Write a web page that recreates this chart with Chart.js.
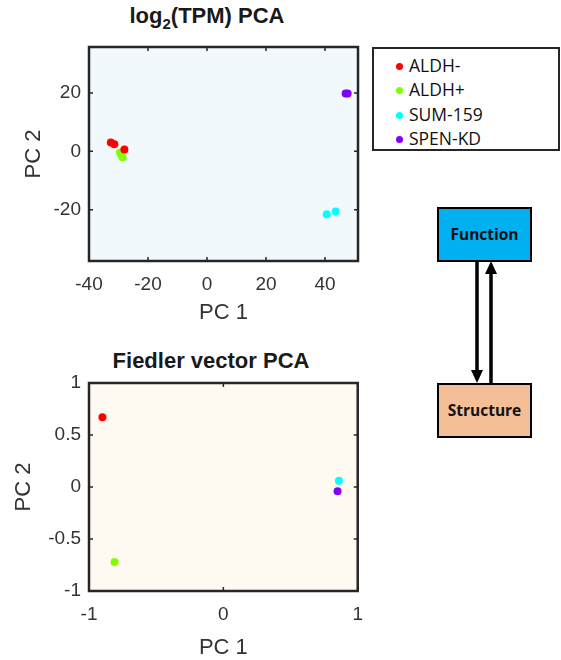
<!DOCTYPE html>
<html>
<head>
<meta charset="utf-8">
<script src="https://cdn.jsdelivr.net/npm/chart.js@4.4.1/dist/chart.umd.min.js"></script>
<style>
    body { margin: 0; width: 561px; height: 660px; background: #fff; position: relative; overflow: hidden; }
    canvas { position: absolute; }
    .title { position: absolute; font-family: "Liberation Sans", Arial, sans-serif; font-weight: bold; font-size: 22px; color: #1a1a1a; white-space: nowrap; transform: translateX(-50%); }
    .title sub { font-size: 15px; vertical-align: -6px; line-height: 0; }
    #legend { position: absolute; left: 372px; top: 47px; width: 184px; height: 100px; border: 2px solid #262626; font-family: "Open Sans", sans-serif; font-size: 17.5px; color: #111; }
    .entry { position: absolute; left: 22px; height: 24px; line-height: 24px; }
    .entry i { display: inline-block; width: 7px; height: 7px; border-radius: 50%; margin-right: 6px; vertical-align: 2px; }
    .box { position: absolute; left: 437px; width: 91px; height: 51px; border: 2px solid #000; font-family: "Open Sans", sans-serif; font-weight: bold; font-size: 15.5px; text-align: center; line-height: 51px; color: #111; }
</style>
</head>
<body>
<div class="title" style="left:207px; top:3px;">log<sub>2</sub>(TPM) PCA</div>
<div class="title" style="left:211px; top:348px;">Fiedler vector PCA</div>
<canvas id="pcaTpm" width="370" height="335" style="left:0; top:0;"></canvas>
<canvas id="pcaFiedler" width="375" height="320" style="left:0; top:340px;"></canvas>
<div id="legend"></div>
<div class="box" style="top:207px; background:#00b0f0;">Function</div>
<div class="box" style="top:383px; background:#f4bf97;">Structure</div>
<svg width="561" height="660" style="position:absolute; left:0; top:0; pointer-events:none;">
    <line x1="477" y1="261" x2="477" y2="372" stroke="#000" stroke-width="3.5"/>
    <polygon points="471,370 483,370 477,383" fill="#000"/>
    <line x1="491" y1="383" x2="491" y2="272" stroke="#000" stroke-width="3.5"/>
    <polygon points="485,274 497,274 491,261" fill="#000"/>
</svg>
<script>
const groups = ['ALDH-', 'ALDH+', 'SUM-159', 'SPEN-KD'];
const groupColors = ['#ff0000', '#7fff00', '#00ffff', '#8000ff'];

// log2(TPM) PCA, [PC1, PC2]
const tpmAldhNeg = [[-32.6, 3.0], [-31.4, 2.4], [-28.0, 0.6]];
const tpmAldhPos = [[-29.5, -0.4], [-29.0, -1.2], [-28.6, -2.0]];
const tpmSum159 = [[40.6, -21.5], [43.6, -20.6]];
const tpmSpenKd = [[47.0, 19.8], [47.7, 19.8]];

// Fiedler vector PCA, [PC1, PC2]
const fvAldhNeg = [[-0.9, 0.67]];
const fvAldhPos = [[-0.81, -0.72]];
const fvSum159 = [[0.86, 0.06]];
const fvSpenKd = [[0.85, -0.04]];

const tpmXTicks = [-40, -20, 0, 20, 40];
const tpmYTicks = [-20, 0, 20];
const fvXTicks = [-1, 0, 1];
const fvYTicks = [-1, -0.5, 0, 0.5, 1];

const axisColor = '#262626';
const textColor = '#333333';

function toPoints(pairs) {
    return pairs.map(p => ({ x: p[0], y: p[1] }));
}

// axes box, background and inward ticks on all sides (MATLAB style)
const boxPlugin = {
    id: 'box',
    beforeDatasetsDraw(chart, args, opts) {
        const { ctx, chartArea: a } = chart;
        ctx.save();
        ctx.fillStyle = opts.bg;
        ctx.fillRect(a.left, a.top, a.right - a.left, a.bottom - a.top);
        ctx.restore();
    },
    afterDatasetsDraw(chart) {
        const { ctx, chartArea: a, scales } = chart;
        ctx.save();
        ctx.strokeStyle = axisColor;
        ctx.lineWidth = 1.5;
        ctx.beginPath();
        scales.x.ticks.forEach(t => {
            const px = scales.x.getPixelForValue(t.value);
            ctx.moveTo(px, a.bottom); ctx.lineTo(px, a.bottom - 4);
            ctx.moveTo(px, a.top); ctx.lineTo(px, a.top + 4);
        });
        scales.y.ticks.forEach(t => {
            const py = scales.y.getPixelForValue(t.value);
            ctx.moveTo(a.left, py); ctx.lineTo(a.left + 4, py);
            ctx.moveTo(a.right, py); ctx.lineTo(a.right - 4, py);
        });
        ctx.stroke();
        ctx.lineWidth = 2.5;
        ctx.strokeRect(a.left, a.top, a.right - a.left, a.bottom - a.top);
        ctx.restore();
    }
};

function makeChart(id, series, opt) {
    const datasets = series.map((s, i) => ({
        label: groups[i],
        data: toPoints(s),
        backgroundColor: groupColors[i],
        borderWidth: 0,
        pointRadius: 4
    }));
    return new Chart(document.getElementById(id).getContext('2d'), {
        type: 'scatter',
        data: { datasets: datasets },
        plugins: [boxPlugin],
        options: {
            responsive: false,
            animation: false,
            layout: { padding: { left: 0, top: opt.top, right: 12, bottom: 0 } },
            plugins: {
                legend: { display: false },
                tooltip: { enabled: false },
                box: { bg: opt.bg }
            },
            scales: {
                x: {
                    min: opt.xMin, max: opt.xMax,
                    afterBuildTicks: s => { s.ticks = opt.xTicks.map(v => ({ value: v })); },
                    afterFit: s => { s.height = opt.xHeight; },
                    grid: { display: false, drawTicks: false },
                    border: { display: false },
                    ticks: { color: textColor, padding: 12, font: { family: 'Liberation Sans', size: 19 }, maxRotation: 0, autoSkip: false, callback: v => String(v) },
                    title: { display: true, text: 'PC 1', color: textColor, font: { family: 'Liberation Sans', size: 22, lineHeight: 1 }, padding: { top: 0, bottom: opt.xTitlePad } }
                },
                y: {
                    min: opt.yMin, max: opt.yMax,
                    afterBuildTicks: s => { s.ticks = opt.yTicks.map(v => ({ value: v })); },
                    afterFit: s => { s.width = 89; },
                    grid: { display: false, drawTicks: false },
                    border: { display: false },
                    ticks: { color: textColor, padding: 8, font: { family: 'Liberation Sans', size: 19 }, autoSkip: false, callback: v => String(v) },
                    title: { display: true, text: 'PC 2', color: textColor, font: { family: 'Liberation Sans', size: 22, lineHeight: 1 }, padding: { top: opt.yTitlePad, bottom: 0 } }
                }
            }
        }
    });
}

makeChart('pcaTpm', [tpmAldhNeg, tpmAldhPos, tpmSum159, tpmSpenKd], {
    top: 47, xHeight: 74, bg: '#f2f9fc',
    xMin: -40, xMax: 51.2, yMin: -37.5, yMax: 35.7,
    xTicks: tpmXTicks, yTicks: tpmYTicks,
    xTitlePad: 11, yTitlePad: 23
});

makeChart('pcaFiedler', [fvAldhNeg, fvAldhPos, fvSum159, fvSpenKd], {
    top: 43, xHeight: 69, bg: '#fefaf2',
    xMin: -1, xMax: 1, yMin: -1, yMax: 1,
    xTicks: fvXTicks, yTicks: fvYTicks,
    xTitlePad: 1, yTitlePad: 13
});

// legend box built from the group arrays
const legend = document.getElementById('legend');
groups.forEach((g, i) => {
    const row = document.createElement('div');
    row.className = 'entry';
    row.style.top = (4 + i * 24.3) + 'px';
    row.innerHTML = '<i style="background:' + groupColors[i] + '"></i>' + g;
    legend.appendChild(row);
});
</script>
</body>
</html>
